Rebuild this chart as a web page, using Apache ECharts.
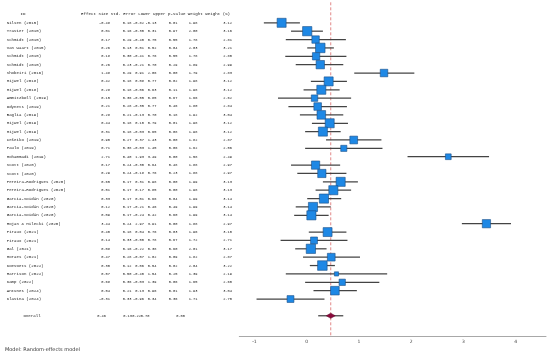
<!DOCTYPE html>
<html><head><meta charset="utf-8">
<script src="https://cdn.jsdelivr.net/npm/echarts@6/dist/echarts.min.js"></script>
<style>html,body{margin:0;padding:0;background:#fff}#c{width:550px;height:356px}</style>
</head><body><div id="c"></div>
<script>
const studies = ["Nilsen (2015)","Travier (2015)","Schmidt (2015)","Van Waart (2015)","Schmidt (2015)","Schmidt (2015)",
"Shobeiri (2016)","Mijwel (2018)","Mijwel (2018)","Ammitzbøll (2019)","Odynets (2019)","Baglia (2019)",
"Mijwel (2019)","Mijwel (2019)","Cešeiko (2019)","Paulo (2019)","Mohammadi (2019)","Scott (2020)","Scott (2020)",
"Pereira-Rodrigues (2020)","Pereira-Rodrigues (2020)","Garcia-Soidán (2020)","Garcia-Soidán (2020)","Garcia-Soidán (2020)",
"Hojan & Milecki (2020)","Piraux (2021)","Piraux (2021)","Gal (2021)","Moraes (2021)","Koevoets (2022)",
"Harrison (2022)","Kamp (2022)","Antunes (2024)","Klavina (2024)"];
const effect = [-0.48,0.01,0.17,0.26,0.18,0.26,1.48,0.42,0.28,0.15,0.21,0.28,0.44,0.31,0.90,0.71,2.71,0.17,0.29,0.65,0.51,0.33,0.12,0.09,3.44,0.40,0.14,0.08,0.47,0.30,0.57,0.68,0.54,-0.31];
const stdErr = [0.18,0.16,0.29,0.13,0.30,0.23,0.29,0.18,0.18,0.36,0.28,0.21,0.18,0.18,0.27,0.38,0.40,0.24,0.24,0.17,0.17,0.17,0.17,0.17,0.24,0.18,0.33,0.16,0.28,0.12,0.50,0.36,0.21,0.33];
const lower = [-0.82,-0.30,-0.40,0.01,-0.41,-0.21,0.91,0.08,-0.06,-0.55,-0.35,-0.13,0.10,-0.03,0.37,-0.03,1.93,-0.30,-0.18,0.31,0.17,0.01,-0.21,-0.24,2.97,0.04,-0.50,-0.22,-0.07,0.06,-0.40,-0.03,0.13,-0.96];
const upper = [-0.13,0.31,0.75,0.52,0.76,0.70,2.06,0.77,0.63,0.85,0.77,0.70,0.79,0.65,1.43,1.45,3.49,0.64,0.76,0.98,0.85,0.66,0.46,0.42,3.91,0.76,0.78,0.38,1.02,0.54,1.54,1.39,0.96,0.34];
const pValue = [0.01,0.97,0.55,0.04,0.55,0.29,0.00,0.02,0.11,0.67,0.46,0.18,0.01,0.08,0.00,0.06,0.00,0.48,0.23,0.00,0.00,0.04,0.49,0.60,0.00,0.03,0.67,0.60,0.09,0.02,0.25,0.06,0.01,0.36];
const weight = [1.98,2.00,1.78,2.03,1.78,1.89,1.79,1.98,1.98,1.66,1.80,1.92,1.98,1.98,1.82,1.62,1.58,1.88,1.88,1.99,1.98,1.99,1.99,1.99,1.88,1.96,1.72,2.01,1.82,2.04,1.39,1.65,1.93,1.71];
const weightPct = [3.12,3.16,2.81,3.21,2.80,2.99,2.83,3.12,3.12,2.62,2.84,3.04,3.12,3.12,2.87,2.56,2.49,2.97,2.97,3.13,3.13,3.14,3.14,3.14,2.97,3.10,2.71,3.17,2.87,3.22,2.19,2.60,3.04,2.70];
const overall = {label:"Overall", effect:0.46, se:0.13, lower:0.22, upper:0.70, p:0.00};
const xTicks = [-1,0,1,2,3,4];
const header = "Effect Size Std. Error Lower Upper p-value Weight Weight (%)";
const modelText = "Model: Random-effects model";

const N = studies.length;
const overallRow = N + 1;
const yMin = -2.45, yMax = 37.5;
const mono = '"Liberation Mono","DejaVu Sans Mono",monospace';
const textColor = '#1a1a1a';
const f2 = v => v.toFixed(2);

// table text items: [xPos, row, text, align, fontSize]
const colRight = [110, 131.5, 144, 156.5, 177.5, 197.5, 232];
const tableItems = [];
tableItems.push([23, -1.1, "ID", 'center', 4.15]);
tableItems.push([81, -1.1, header, 'left', 4.15]);
for (let i = 0; i < N; i++) {
  tableItems.push([6.7, i, studies[i], 'left', 4.1]);
  const vals = [effect[i], stdErr[i], lower[i], upper[i], pValue[i], weight[i], weightPct[i]];
  vals.forEach((v, k) => tableItems.push([colRight[k], i, f2(v), 'right', 3.7]));
}
tableItems.push([32, overallRow, overall.label, 'center', 4.1]);
[[overall.effect,106],[overall.se,132],[overall.lower,141],[overall.upper,149.5],[overall.p,185]]
  .forEach(([v,x]) => tableItems.push([x, overallRow, f2(v), 'right', 3.7]));

const ciData = studies.map((s, i) => [i, effect[i], lower[i], upper[i], weightPct[i]]);

const chart = echarts.init(document.getElementById('c'), null, {renderer: 'canvas'});
chart.setOption({
  animation: false,
  backgroundColor: '#fff',
  grid: [
    {left: 0, width: 239.3, top: 2.3, bottom: 19.3},
    {left: 239.3, right: 4, top: 2.3, bottom: 19.3}
  ],
  xAxis: [
    {gridIndex: 0, type: 'value', min: 0, max: 239.3, show: false},
    {gridIndex: 1, type: 'value', min: -1.29, max: 4.58,
     axisLine: {show: true, onZero: false, lineStyle: {color: '#a8a8a8', width: 1}},
     axisTick: {show: false}, splitLine: {show: false},
     axisLabel: {customValues: xTicks, fontSize: 4.5, color: '#444', margin: 3, fontFamily: 'DejaVu Sans',
       formatter: v => String(v)}}
  ],
  yAxis: [
    {gridIndex: 0, type: 'value', inverse: true, min: yMin, max: yMax, show: false},
    {gridIndex: 1, type: 'value', inverse: true, min: yMin, max: yMax, show: false}
  ],
  graphic: [{type: 'text', left: 5, top: 347, style: {text: modelText, font: '5px "DejaVu Sans",sans-serif', fill: '#333'}}],
  series: [
    {
      type: 'custom', xAxisIndex: 0, yAxisIndex: 0, silent: true,
      data: tableItems.map(t => [t[0], t[1]]),
      renderItem: (params, api) => {
        const t = tableItems[params.dataIndex];
        const p = api.coord([t[0], t[1]]);
        return {type: 'text', x: p[0], y: p[1], style: {text: t[2], fill: textColor,
          font: t[4] + 'px ' + mono, align: t[3], verticalAlign: 'middle'}};
      }
    },
    {
      type: 'line', xAxisIndex: 1, yAxisIndex: 1, silent: true, symbol: 'none', z: 1,
      data: [[overall.effect, yMin], [overall.effect, yMax]],
      lineStyle: {color: '#e07a7a', width: 0.9, type: [3, 2]}
    },
    {
      type: 'custom', xAxisIndex: 1, yAxisIndex: 1, silent: true, z: 3,
      data: ciData,
      renderItem: (params, api) => {
        const row = api.value(0);
        const c = api.coord([api.value(1), row]);
        const l = api.coord([api.value(2), row]);
        const u = api.coord([api.value(3), row]);
        const s = 4.2 + (api.value(4) - 2.19) * 5.2;
        return {type: 'group', children: [
          {type: 'line', shape: {x1: l[0], y1: l[1], x2: u[0], y2: u[1]}, style: {stroke: '#444', lineWidth: 1.25}},
          {type: 'rect', shape: {x: c[0] - s / 2, y: c[1] - s / 2, width: s, height: s},
           style: {fill: '#1e88e5', stroke: '#1b4f86', lineWidth: 0.6}}
        ]};
      }
    },
    {
      type: 'custom', xAxisIndex: 1, yAxisIndex: 1, silent: true, z: 3,
      data: [[overallRow, overall.effect, overall.lower, overall.upper]],
      renderItem: (params, api) => {
        const row = api.value(0);
        const c = api.coord([api.value(1), row]);
        const l = api.coord([api.value(2), row]);
        const u = api.coord([api.value(3), row]);
        const w = 4.5, h = 2.6;
        return {type: 'group', children: [
          {type: 'line', shape: {x1: l[0], y1: l[1], x2: u[0], y2: u[1]}, style: {stroke: '#444', lineWidth: 1.25}},
          {type: 'polygon', shape: {points: [[c[0] - w, c[1]], [c[0], c[1] - h], [c[0] + w, c[1]], [c[0], c[1] + h]]},
           style: {fill: '#8b0a3c', stroke: '#5a0627', lineWidth: 0.5}}
        ]};
      }
    }
  ]
});
</script></body></html>
